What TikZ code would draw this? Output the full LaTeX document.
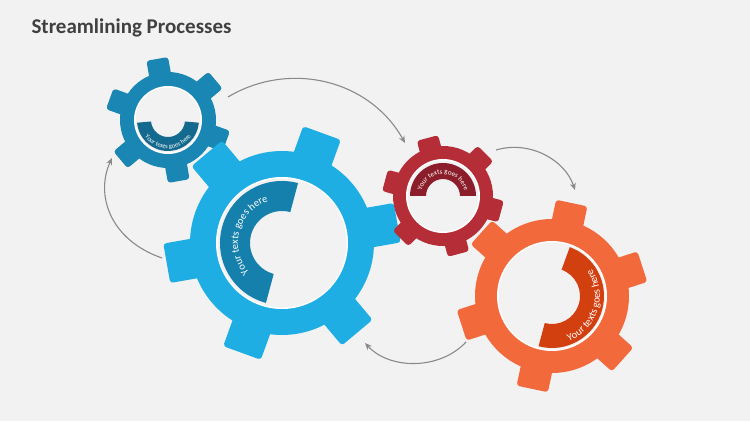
\documentclass[tikz,border=0pt]{standalone}
\usepackage{fontspec}
\setmainfont{Carlito}
\usetikzlibrary{decorations.text,arrows.meta}
\definecolor{bg}{HTML}{F2F2F2}
\definecolor{gA}{HTML}{1A86B3}\definecolor{tA}{HTML}{136A8E}
\definecolor{gB}{HTML}{1EAEE3}\definecolor{tB}{HTML}{1580AC}
\definecolor{gC}{HTML}{B52D37}\definecolor{tC}{HTML}{8B1E2A}
\definecolor{gD}{HTML}{F26A3C}\definecolor{tD}{HTML}{D2400F}
\definecolor{arr}{HTML}{8A8A8A}
\tikzset{flow/.style={draw=arr,line width=1.1pt,-{Stealth[length=7pt,width=6pt]}}}
% #1 x, #2 y(screen), #3 rIn, #4 rOut, #5 rTip, #6 tooth width, #7 offset, #8 colour
\newcommand{\mygear}[8]{%
\begin{scope}[shift={(#1,421-#2)}]
\fill[#8] (0,0) circle (#4);
\foreach \k in {0,...,5}{\fill[#8,rounded corners=3pt,rotate=#7+60*\k] (#4-8,-#6/2) rectangle (#5,#6/2);}
\fill[white] (0,0) circle (#3);
\fill[bg] (0,0) circle (#3-1.5);
\end{scope}}
% band: #1 x,#2 y,#3 r1,#4 r2,#5 start,#6 end,#7 colour,#8 text radius,#9 font size
\newcommand{\myband}[9]{%
\begin{scope}[shift={(#1,421-#2)}]
\fill[#7] (#5:#4) arc[start angle=#5,end angle=#6,radius=#4] -- (#6:#3) arc[start angle=#6,end angle=#5,radius=#3] -- cycle;
\path[decorate,decoration={text along path,text align=center,text color=white,
 text={|\fontsize{#9}{#9}\selectfont|Your texts goes here}}] (#5:#8) arc[start angle=#5,end angle=#6,radius=#8];
\end{scope}}
\begin{document}
\begin{tikzpicture}[x=1pt,y=1pt]
\fill[bg] (0,0) rectangle (750,421);
\useasboundingbox (0,0) rectangle (750,421);
\node[anchor=west,text=black!75,font=\bfseries\fontsize{21}{21}\selectfont] (title) at (28,393) {Streamlining Processes};
\mygear{168}{120}{34}{48}{62}{22}{100}{gA}
\myband{168}{120}{17}{31}{185}{355}{tA}{28.5}{6.5}
\mygear{282}{243}{66}{92}{117}{40}{70}{gB}
\myband{282}{243}{32}{62}{255}{75}{tB}{44}{10.5}
\mygear{443}{196}{37}{50}{60}{22}{105}{gC}
\myband{443}{196}{17}{33}{180}{0}{tC}{22}{7}
\mygear{552}{296}{55}{77}{95}{32}{78}{gD}
\myband{552}{296}{28}{52}{-105}{70}{tD}{48}{10.5}
\coordinate (a1) at (228,421-97);  \coordinate (b1) at (405,421-143);
\coordinate (a2) at (496,421-150); \coordinate (b2) at (575,421-190);
\coordinate (a3) at (466,421-342); \coordinate (b3) at (365,421-343);
\coordinate (a4) at (162,421-258); \coordinate (b4) at (112,421-158);
\draw[flow] (a1) .. controls (290,421-60) and (370,421-80) .. (b1);
\draw[flow] (a2) .. controls (530,421-140) and (565,421-160) .. (b2);
\draw[flow] (a3) .. controls (440,421-370) and (390,421-370) .. (b3);
\draw[flow] (a4) .. controls (110,421-240) and (95,421-195) .. (b4);
\end{tikzpicture}
\end{document}
